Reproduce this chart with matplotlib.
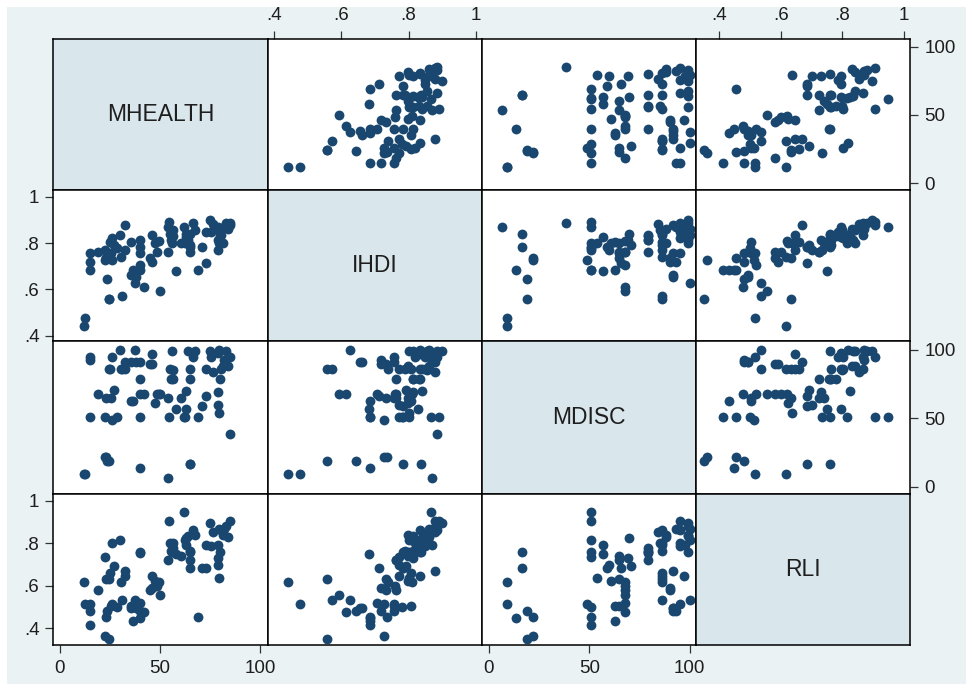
import numpy as np
import matplotlib.pyplot as plt
from matplotlib.patches import Rectangle

plt.rcParams['font.family'] = ['Liberation Sans', 'DejaVu Sans']

# Variables of the scatter matrix (one entry per observation)
names = ['MHEALTH', 'IHDI', 'MDISC', 'RLI']

mhealth = [11.8, 12.3, 15.1, 15.1, 15.1, 18.8, 22.5, 24.5, 23.5, 22.3,
           22.8, 24.8, 26.0, 27.0, 25.5, 26.0, 29.8, 28.5, 31.0, 32.3,
           32.3, 30.6, 35.6, 36.5, 37.3, 35.6, 38.1, 39.8, 39.8, 39.8,
           39.9, 39.8, 41.8, 44.8, 46.0, 46.0, 47.3, 49.6, 49.8, 48.3,
           53.8, 54.5, 53.9, 54.7, 55.6, 56.4, 57.8, 55.8, 56.6, 60.6,
           62.0, 63.0, 63.0, 64.0, 66.4, 64.7, 64.7, 64.8, 67.2, 68.9,
           62.4, 70.9, 73.0, 73.0, 74.7, 75.6, 78.9, 78.9, 78.9, 79.5,
           80.0, 80.5, 81.4, 83.0, 84.7, 85.0, 24.5, 64.9, 23.0, 82.0,
           76.5, 84.0, 79.5]
ihdi = [0.440, 0.476, 0.756, 0.719, 0.684, 0.763, 0.727, 0.558, 0.643, 0.770,
        0.734, 0.806, 0.820, 0.791, 0.756, 0.727, 0.835, 0.780, 0.571, 0.878,
        0.770, 0.740, 0.806, 0.684, 0.626, 0.662, 0.655, 0.813, 0.784, 0.756,
        0.684, 0.705, 0.612, 0.734, 0.719, 0.835, 0.799, 0.810, 0.593, 0.760,
        0.870, 0.892, 0.763, 0.841, 0.813, 0.856, 0.681, 0.800, 0.830, 0.799,
        0.868, 0.841, 0.827, 0.813, 0.885, 0.790, 0.763, 0.784, 0.856, 0.684,
        0.800, 0.784, 0.712, 0.849, 0.899, 0.849, 0.870, 0.813, 0.770, 0.800,
        0.835, 0.835, 0.799, 0.885, 0.878, 0.885, 0.556, 0.838, 0.736, 0.870,
        0.880, 0.860, 0.860]
mdisc = [9, 9, 95, 93, 51, 68, 22, 19, 19, 50.8,
         64.7, 86, 95, 71, 65, 49, 100, 51, 86, 91.5,
         86, 86, 63, 63, 100, 91.5, 91.5, 79, 51, 91.5,
         13.5, 68, 68, 90, 90, 97, 61, 68, 68, 68,
         6.6, 50.8, 65, 86, 79, 85, 57, 99, 79, 65,
         50.8, 70, 57, 99, 95, 86, 79, 16.4, 99, 51,
         51, 59, 66, 86, 99, 95, 97.6, 69.5, 60, 54,
         79, 86, 88, 99, 95, 38.5, 86, 16.4, 21.9, 93,
         84, 88, 100]
rli = [0.617, 0.516, 0.516, 0.480, 0.414, 0.582, 0.362, 0.351, 0.480, 0.734,
       0.634, 0.660, 0.802, 0.692, 0.503, 0.513, 0.818, 0.500, 0.535, 0.668,
       0.645, 0.617, 0.503, 0.433, 0.535, 0.495, 0.495, 0.755, 0.761, 0.480,
       0.449, 0.520, 0.476, 0.582, 0.590, 0.645, 0.622, 0.620, 0.555, 0.600,
       np.nan, 0.904, 0.723, 0.802, 0.763, 0.800, 0.750, 0.760, 0.780, 0.739,
       0.947, 0.826, 0.794, 0.834, 0.865, 0.763, 0.723, 0.684, 0.840, 0.455,
       0.815, 0.684, 0.684, 0.794, 0.896, 0.786, 0.794, 0.731, 0.700, 0.637,
       0.760, 0.865, 0.841, 0.881, 0.904, np.nan, 0.634, 0.761, 0.454, 0.870,
       0.855, 0.830, 0.870]

data = [mhealth, ihdi, mdisc, rli]

# axis ticks and labels
tick_vals = [[0, 50, 100], [0.4, 0.6, 0.8, 1], [0, 50, 100], [0.4, 0.6, 0.8, 1]]
tick_labs = [['0', '50', '100'], ['.4', '.6', '.8', '1'],
             ['0', '50', '100'], ['.4', '.6', '.8', '1']]
xlims = [(-3.3, 103.7), (0.380, 1.018), (-3.6, 103.0), (0.324, 1.020)]
ylims = [(-4.9, 105.4), (0.378, 1.029), (-5.4, 106.8), (0.321, 1.033)]

navy = '#1a476f'
diag_col = '#d9e6ec'
bg_col = '#eaf2f3'

W, H = 966, 684
fig = plt.figure(figsize=(W / 100, H / 100), dpi=100)
fig.patch.set_facecolor('white')
fig.patches.append(Rectangle((7 / W, 0), 1, 1 - 7 / H, transform=fig.transFigure,
                             facecolor=bg_col, edgecolor='none', zorder=-10))

# panel edges in pixels
col_edges = [53.3, 267.7, 481.7, 695.7, 910.3]
row_edges = [39.3, 190.0, 340.7, 494.0, 645.0]

for i in range(4):
    for j in range(4):
        x0, x1 = col_edges[j], col_edges[j + 1]
        y0, y1 = row_edges[i], row_edges[i + 1]
        ax = fig.add_axes([x0 / W, 1 - y1 / H, (x1 - x0) / W, (y1 - y0) / H])
        for sp in ax.spines.values():
            sp.set_color('black')
            sp.set_linewidth(1.1)
        ax.tick_params(which='both', bottom=False, top=False, left=False, right=False,
                       labelbottom=False, labeltop=False, labelleft=False, labelright=False)
        if i == j:
            ax.set_facecolor(diag_col)
            ax.text(0.5, 0.5, names[i], transform=ax.transAxes, ha='center', va='center',
                    fontsize=16.5, color='#1e1e1e')
            ax.set_xticks([])
            ax.set_yticks([])
            continue
        ax.set_facecolor('white')
        ax.scatter(data[j], data[i], s=50, color=navy, linewidths=0, zorder=3)
        ax.set_xlim(xlims[j])
        ax.set_ylim(ylims[i])
        ax.set_xticks(tick_vals[j])
        ax.set_xticklabels(tick_labs[j])
        ax.set_yticks(tick_vals[i])
        ax.set_yticklabels(tick_labs[i])

        kw = dict(length=6, width=0.9, color='#333333', labelsize=13.5, labelcolor='#1e1e1e')
        if i == 3 and j in (0, 2):
            ax.tick_params(axis='x', bottom=True, labelbottom=True, pad=5, **kw)
        if i == 0 and j in (1, 3):
            ax.tick_params(axis='x', top=True, labeltop=True, pad=5, **kw)
        if j == 0 and i in (1, 3):
            ax.tick_params(axis='y', left=True, labelleft=True, pad=4, **kw)
        if j == 3 and i in (0, 2):
            ax.tick_params(axis='y', right=True, labelright=True, pad=4, **kw)

fig.savefig('out.png', dpi=100, facecolor=fig.get_facecolor())
